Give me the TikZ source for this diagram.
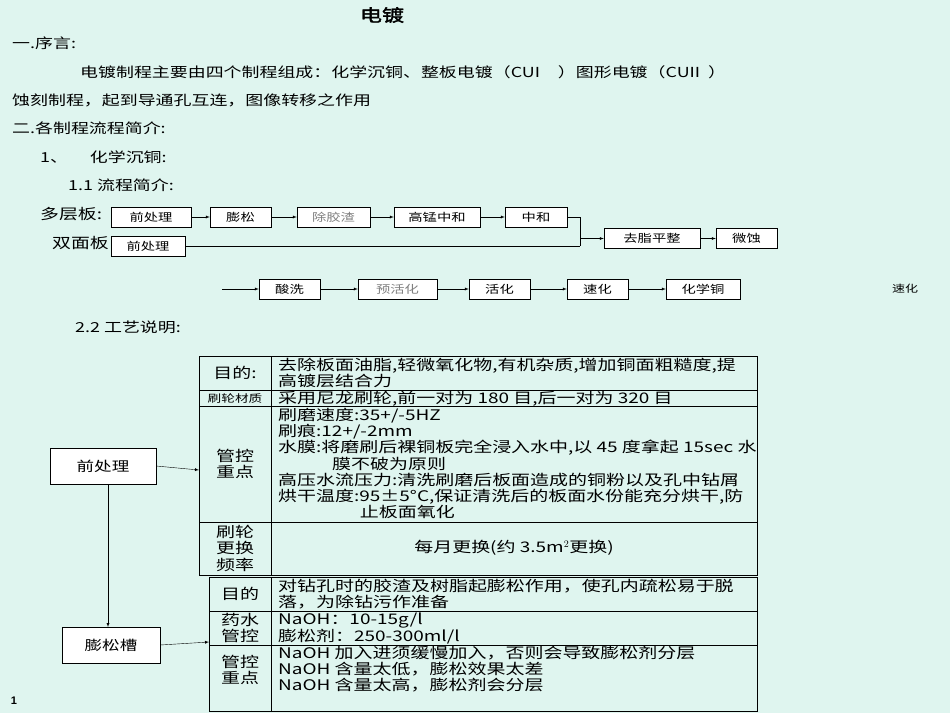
\documentclass[tikz,border=0pt]{standalone}
\usepackage{fontspec}
\setmainfont{Liberation Sans}
\newfontfamily\cjk[FakeStretch=1.3]{Noto Sans CJK SC}
\newfontfamily\cjkb[FakeStretch=1.3,FakeBold=2]{Noto Sans CJK SC}
\begin{document}
\begin{tikzpicture}[x=1pt,y=-1pt,font=\cjk,
 fb/.style={draw,thin,fill=white,minimum height=20pt,inner sep=0pt,font=\cjk\fontsize{11}{12}\selectfont},
 tx/.style={anchor=west,inner sep=0pt,font=\cjk\fontsize{13.8}{14}\selectfont},
 tt/.style={anchor=north west,inner sep=0pt,align=left,font=\cjk\fontsize{14.6}{16.2}\selectfont},
 kk/.style={inner sep=0pt,align=center,font=\cjk\fontsize{14.6}{16.5}\selectfont},
 arr/.style={-latex,thin}]
\fill[fill={rgb,255:red,223;green,245;blue,239}] (0,0) rectangle (950,713);
\useasboundingbox (0,0) rectangle (950,713);
\node[inner sep=0pt,font=\cjkb\fontsize{17}{20}\selectfont] (title) at (382,15) {电镀};
\node[tx] (t1) at (12,43) {一.序言:};
\node[tx] (t2) at (80,72) {电镀制程主要由四个制程组成：化学沉铜、整板电镀（CUI\quad\ ）图形电镀（CUII\ \ ）};
\node[tx] (t3) at (12,100) {蚀刻制程，起到导通孔互连，图像转移之作用};
\node[tx] (t4) at (12,128) {二.各制程流程简介:};
\node[tx] (t5) at (40,157) {1、\quad\ \ 化学沉铜:};
\node[tx] (t6) at (68,185) {1.1 流程简介:};
\node[tx,font=\cjk\fontsize{14.5}{16}\selectfont] (ml) at (40,214) {多层板:};
\node[tx,font=\cjk\fontsize{14.5}{16}\selectfont] (sm) at (52,243) {双面板};
% row 1
\node[fb,minimum width=80pt] (a1) at (151,217) {前处理};
\node[fb,minimum width=61pt] (a2) at (240.5,217) {膨松};
\node[fb,minimum width=73pt,text=gray] (a3) at (333.5,217) {除胶渣};
\node[fb,minimum width=86pt] (a4) at (437,217) {高锰中和};
\node[fb,minimum width=62pt] (a5) at (536,217) {中和};
\node[fb,minimum width=74pt] (b1) at (148,246) {前处理};
\node[fb,minimum width=96pt] (c1) at (652,238.5) {去脂平整};
\node[fb,minimum width=61pt] (c2) at (746.5,238.5) {微蚀};
\draw[arr] (a1)--(a2); \draw[arr] (a2)--(a3); \draw[arr] (a3)--(a4); \draw[arr] (a4)--(a5);
\coordinate (j) at (580,238.5);
\draw (a5.east) -| (580,246); \draw (b1.east) -- (580,246);
\draw[arr] (j) -- (c1); \draw[arr] (c1)--(c2);
% row 3
\coordinate (s) at (222,289);
\node[fb,minimum width=61pt] (d1) at (289.5,289) {酸洗};
\node[fb,minimum width=79pt,text=gray] (d2) at (397.5,289) {预活化};
\node[fb,minimum width=61pt] (d3) at (499.5,289) {活化};
\node[fb,minimum width=61pt] (d4) at (597.5,289) {速化};
\node[fb,minimum width=74pt] (d5) at (703,289) {化学铜};
\draw[arr] (s)--(d1); \draw[arr] (d1)--(d2); \draw[arr] (d2)--(d3); \draw[arr] (d3)--(d4); \draw[arr] (d4)--(d5);
\node[inner sep=0pt,font=\cjk\fontsize{10}{12}\selectfont] (sh) at (905,289) {速化};
\node[tx] (t7) at (75,327) {2.2 工艺说明:};
% table 1
\draw[thin] (199,356) rectangle (757,575);
\draw[thin] (271,356)--(271,575);
\foreach \y in {390,406,522} \draw[thin] (199,\y)--(757,\y);
\node[kk] (k1) at (235,373) {目的:};
\node[inner sep=0pt,font=\cjk\fontsize{10.5}{12}\selectfont] (k2) at (235,398) {刷轮材质};
\node[kk] (k3) at (235,464) {管控\\重点};
\node[kk] (k4) at (235,548) {刷轮\\更换\\频率};
\node[tt] (v1) at (278,358) {去除板面油脂,轻微氧化物,有机杂质,增加铜面粗糙度,提\\高镀层结合力};
\node[tt] (v2) at (278,391) {采用尼龙刷轮,前一对为 180 目,后一对为 320 目};
\node[tt] (v3) at (278,408) {刷磨速度:35+/-5HZ\\刷痕:12+/-2mm\\水膜:将磨刷后裸铜板完全浸入水中,以 45 度拿起 15sec 水\\\hspace*{3.7em}膜不破为原则\\高压水流压力:清洗刷磨后板面造成的铜粉以及孔中钻屑\\烘干温度:95±5°C,保证清洗后的板面水份能充分烘干,防\\\hspace*{5.6em}止板面氧化};
\node[kk] (v4) at (514,548) {每月更换(约 3.5m$^2$更换)};
% table 2
\draw[thin] (209,577) rectangle (757,711);
\draw[thin] (271,577)--(271,711);
\foreach \y in {611,645} \draw[thin] (209,\y)--(757,\y);
\node[kk] (m1) at (240,594) {目的};
\node[kk] (m2) at (240,628) {药水\\管控};
\node[kk] (m3) at (240,670) {管控\\重点};
\node[tt] (w1) at (278,579) {对钻孔时的胶渣及树脂起膨松作用，使孔内疏松易于脱\\落，为除钻污作准备};
\node[tt] (w2) at (278,613) {NaOH：10-15g/l\\膨松剂：250-300ml/l};
\node[tt] (w3) at (278,646) {NaOH 加入进须缓慢加入，否则会导致膨松剂分层\\NaOH 含量太低，膨松效果太差\\NaOH 含量太高，膨松剂会分层};
% left boxes
\node[draw,thin,fill=white,minimum width=106pt,minimum height=36pt,font=\cjk\fontsize{13.5}{15}\selectfont] (p1) at (103,466) {前处理};
\node[draw,thin,fill=white,minimum width=98pt,minimum height=36pt,font=\cjk\fontsize{13.5}{15}\selectfont] (p2) at (111,645) {膨松槽};
\draw[arr] (p1.east)--(199,470);
\draw[arr] (108,484)--(108,627);
\draw[arr] (p2.east)--(209,642);
\node[inner sep=0pt,font=\bfseries\fontsize{11}{12}\selectfont] (pg) at (14,701) {1};
\end{tikzpicture}
\end{document}
